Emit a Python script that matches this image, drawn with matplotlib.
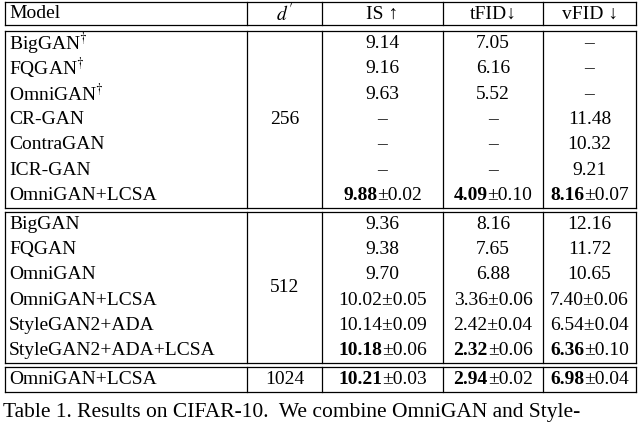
import matplotlib
matplotlib.use("Agg")
import matplotlib.pyplot as plt

plt.rcParams['font.family'] = ['Liberation Serif', 'DejaVu Serif']
plt.rcParams['mathtext.fontset'] = 'stix'

header = ["Model", "$d\\,'$", "IS ↑", "tFID↓", "vFID ↓"]
block1_models = ["BigGAN$^{\\dagger}$", "FQGAN$^{\\dagger}$", "OmniGAN$^{\\dagger}$", "CR-GAN",
                 "ContraGAN", "ICR-GAN", "OmniGAN+LCSA"]
block1_is = ["9.14", "9.16", "9.63", "–", "–", "–", ("9.88", "±0.02")]
block1_tfid = ["7.05", "6.16", "5.52", "–", "–", "–", ("4.09", "±0.10")]
block1_vfid = ["–", "–", "–", "11.48", "10.32", "9.21", ("8.16", "±0.07")]
block2_models = ["BigGAN", "FQGAN", "OmniGAN", "OmniGAN+LCSA", "StyleGAN2+ADA", "StyleGAN2+ADA+LCSA"]
block2_is = ["9.36", "9.38", "9.70", "10.02±0.05", "10.14±0.09", ("10.18", "±0.06")]
block2_tfid = ["8.16", "7.65", "6.88", "3.36±0.06", "2.42±0.04", ("2.32", "±0.06")]
block2_vfid = ["12.16", "11.72", "10.65", "7.40±0.06", "6.54±0.04", ("6.36", "±0.10")]
last_row = ["OmniGAN+LCSA", "1024", ("10.21", "±0.03"), ("2.94", "±0.02"), ("6.98", "±0.04")]
dims = ["256", "512"]

fig = plt.figure(figsize=(6.4, 4.33), dpi=100)
ax = fig.add_axes([0, 0, 1, 1])
ax.set_xlim(0, 640)
ax.set_ylim(433, 0)
ax.axis('off')
renderer = fig.canvas.get_renderer()

vx = [5, 247, 322, 443, 543, 636]
centers = [(vx[i] + vx[i + 1]) / 2 for i in range(5)]
fs = 14

def hline(y):
    ax.plot([vx[0], vx[-1]], [y, y], color='k', lw=0.9)

def vlines(y0, y1):
    for x in vx:
        ax.plot([x, x], [y0, y1], color='k', lw=0.9)

def px_width(t):
    return t.get_window_extent(renderer=renderer).width

def cell(col, y, val):
    if isinstance(val, tuple):
        b = ax.text(0, y, val[0], fontsize=fs, fontweight='bold', va='center', ha='left')
        r = ax.text(0, y, val[1], fontsize=fs, va='center', ha='left')
        wb, wr = px_width(b), px_width(r)
        x0 = centers[col] - (wb + wr) / 2
        b.set_x(x0)
        r.set_x(x0 + wb)
    else:
        ax.text(centers[col], y, val, fontsize=fs, va='center', ha='center')

def model(y, name):
    ax.text(vx[0] + 4, y, name, fontsize=fs, va='center', ha='left')

# header
hline(2); hline(25)
vlines(2, 25)
ax.text(vx[0] + 4, 14, header[0], fontsize=fs, va='center')
for c in range(1, 5):
    ax.text(centers[c], 14, header[c], fontsize=fs, va='center', ha='center')

rh = 25.3
top1 = 31
hline(top1)
y = top1 + rh / 2
for i, m in enumerate(block1_models):
    model(y, m)
    cell(2, y, block1_is[i]); cell(3, y, block1_tfid[i]); cell(4, y, block1_vfid[i])
    y += rh
bot1 = top1 + rh * len(block1_models)
hline(bot1)
vlines(top1, bot1)
ax.text(centers[1], (top1 + bot1) / 2, dims[0], fontsize=fs, va='center', ha='center')

top2 = bot1 + 3.5
hline(top2)
y = top2 + rh / 2
for i, m in enumerate(block2_models):
    model(y, m)
    cell(2, y, block2_is[i]); cell(3, y, block2_tfid[i]); cell(4, y, block2_vfid[i])
    y += rh
bot2 = top2 + rh * len(block2_models)
hline(bot2)
vlines(top2, bot2)
ax.text(centers[1], (top2 + bot2) / 2, dims[1], fontsize=fs, va='center', ha='center')

top3 = bot2 + 3.5
hline(top3)
y = top3 + rh / 2
model(y, last_row[0])
for c in range(1, 5):
    cell(c, y, last_row[c])
bot3 = top3 + rh
hline(bot3)
vlines(top3, bot3)

ax.text(3, 413, "Table 1. Results on CIFAR-10.  We combine OmniGAN and Style-",
        fontsize=15.5, va='center', ha='left')

fig.savefig("out.png", dpi=100)
